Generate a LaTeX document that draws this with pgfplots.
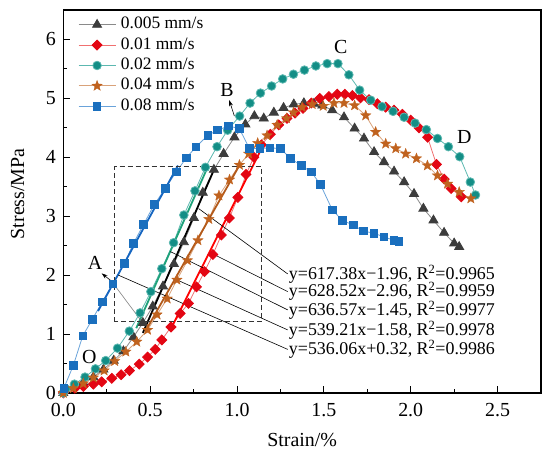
\documentclass[border=0pt]{standalone}
\usepackage{fontspec}
\setmainfont{Liberation Serif}
\usepackage{pgfplots}
\usepackage{pgfplotstable}
\pgfplotsset{compat=1.18}
\usetikzlibrary{arrows.meta}

\definecolor{cAm}{HTML}{3C3C3C}\definecolor{cAl}{HTML}{8A8A8A}
\definecolor{cBm}{HTML}{E30613}\definecolor{cBl}{HTML}{F07070}
\definecolor{cCm}{HTML}{138E86}\definecolor{cCl}{HTML}{5CB8B0}
\definecolor{cDm}{HTML}{C0621E}\definecolor{cDl}{HTML}{D9A27A}
\definecolor{cEm}{HTML}{1A6FBE}\definecolor{cEl}{HTML}{6AA3DA}
\definecolor{fitC}{HTML}{1FA27A}\definecolor{fitD}{HTML}{B35A1A}
\definecolor{fitB}{HTML}{FF0000}\definecolor{fitE}{HTML}{1565C0}

\pgfdeclareplotmark{fstar}{%
  \pgfpathmoveto{\pgfpointpolar{90}{\pgfplotmarksize}}%
  \pgfpathlineto{\pgfpointpolar{126}{0.42\pgfplotmarksize}}%
  \pgfpathlineto{\pgfpointpolar{162}{\pgfplotmarksize}}%
  \pgfpathlineto{\pgfpointpolar{198}{0.42\pgfplotmarksize}}%
  \pgfpathlineto{\pgfpointpolar{234}{\pgfplotmarksize}}%
  \pgfpathlineto{\pgfpointpolar{270}{0.42\pgfplotmarksize}}%
  \pgfpathlineto{\pgfpointpolar{306}{\pgfplotmarksize}}%
  \pgfpathlineto{\pgfpointpolar{342}{0.42\pgfplotmarksize}}%
  \pgfpathlineto{\pgfpointpolar{18}{\pgfplotmarksize}}%
  \pgfpathlineto{\pgfpointpolar{54}{0.42\pgfplotmarksize}}%
  \pgfpathclose
  \pgfusepathqfillstroke}

\pgfplotstableread{
x y
0.000 0.00
0.058 0.10
0.115 0.18
0.173 0.27
0.231 0.40
0.290 0.55
0.346 0.71
0.404 0.95
0.458 1.19
0.515 1.47
0.574 1.81
0.637 2.19
0.694 2.56
0.752 2.97
0.803 3.40
0.867 3.79
0.923 4.06
0.985 4.34
1.048 4.56
1.100 4.70
1.154 4.66
1.212 4.76
1.268 4.84
1.327 4.90
1.385 4.92
1.443 4.91
1.491 4.88
1.548 4.80
1.616 4.68
1.677 4.49
1.731 4.32
1.789 4.09
1.846 3.92
1.904 3.76
1.962 3.58
2.019 3.38
2.073 3.13
2.131 2.93
2.192 2.72
2.250 2.54
2.279 2.48
}\tA

\pgfplotstableread{
x y
0.000 0.00
0.010 0.04
0.067 0.08
0.115 0.11
0.173 0.15
0.221 0.19
0.279 0.25
0.333 0.31
0.381 0.38
0.437 0.49
0.485 0.61
0.529 0.74
0.567 0.90
0.620 1.12
0.673 1.35
0.721 1.52
0.767 1.80
0.813 2.06
0.861 2.35
0.910 2.68
0.956 2.97
1.005 3.32
1.052 3.71
1.097 4.00
1.141 4.21
1.192 4.39
1.240 4.55
1.288 4.66
1.334 4.75
1.380 4.83
1.428 4.92
1.476 5.00
1.529 5.03
1.577 5.07
1.621 5.07
1.664 5.05
1.711 5.01
1.760 4.98
1.808 4.91
1.856 4.85
1.904 4.80
1.952 4.73
2.000 4.63
2.048 4.50
2.097 4.34
2.148 3.88
2.193 3.63
2.233 3.47
2.291 3.33
}\tB

\pgfplotstableread{
x y
0.000 0.00
0.015 0.07
0.064 0.15
0.125 0.27
0.185 0.41
0.244 0.55
0.312 0.76
0.380 1.05
0.442 1.36
0.504 1.72
0.567 2.11
0.635 2.55
0.694 3.02
0.758 3.43
0.818 3.83
0.885 4.18
0.946 4.46
1.015 4.70
1.075 4.92
1.135 5.09
1.199 5.21
1.263 5.33
1.325 5.41
1.388 5.48
1.454 5.55
1.519 5.59
1.581 5.59
1.644 5.40
1.706 5.14
1.770 4.97
1.835 4.86
1.898 4.78
1.962 4.68
2.025 4.58
2.090 4.47
2.154 4.32
2.217 4.18
2.282 4.01
2.343 3.58
2.373 3.36
}\tC

\pgfplotstableread{
x y
0.000 0.00
0.058 0.08
0.115 0.16
0.173 0.26
0.235 0.38
0.296 0.54
0.360 0.70
0.423 0.87
0.485 1.07
0.540 1.33
0.598 1.60
0.654 1.92
0.715 2.25
0.775 2.59
0.838 2.95
0.896 3.35
0.957 3.62
1.014 3.87
1.067 4.06
1.119 4.24
1.173 4.37
1.231 4.55
1.285 4.66
1.325 4.76
1.375 4.85
1.433 4.90
1.496 4.87
1.558 4.92
1.616 4.92
1.677 4.88
1.741 4.71
1.798 4.43
1.856 4.23
1.914 4.15
1.971 4.06
2.033 3.98
2.096 3.86
2.154 3.69
2.212 3.55
2.279 3.41
2.346 3.30
}\tD

\pgfplotstableread{
x y
0.003 0.08
0.058 0.47
0.112 0.97
0.167 1.25
0.225 1.55
0.285 1.85
0.352 2.20
0.404 2.54
0.462 2.86
0.524 3.20
0.587 3.47
0.650 3.75
0.708 3.99
0.765 4.18
0.831 4.37
0.888 4.46
0.950 4.53
1.013 4.49
1.071 4.15
1.131 4.15
1.190 4.16
1.250 4.15
1.308 3.98
1.370 3.86
1.428 3.75
1.480 3.54
1.548 3.11
1.606 2.93
1.669 2.85
1.727 2.75
1.789 2.71
1.846 2.65
1.904 2.59
1.933 2.57
}\tE

\begin{document}
\begin{tikzpicture}
\begin{axis}[
  at={(0,0)}, anchor=south west,
  scale only axis, width=477.7bp, height=383bp,
  xmin=0, xmax=2.75, ymin=0, ymax=6.5,
  xtick={0,0.5,...,2.5}, ytick={0,1,...,6},
  minor x tick num=1, minor y tick num=1,
  xtick pos=bottom, ytick pos=left, tick align=inside,
  major tick length=7bp, minor tick length=4bp,
  tick style={black, line width=0.9bp},
  axis line style={line width=1.1bp},
  clip=false,
  /pgf/number format/assume math mode=true,
  x tick label style={/pgf/number format/.cd, fixed, fixed zerofill, precision=1, /tikz/.cd, font=\fontsize{20}{24}\selectfont, yshift=-6.5bp},
  y tick label style={font=\fontsize{20}{24}\selectfont, xshift=-4bp},
  xlabel={Strain/\%}, ylabel={Stress/MPa},
  xlabel style={at={(axis description cs:0.5,-0.1227)}, anchor=center, font=\fontsize{20}{24}\selectfont},
  ylabel style={at={(axis description cs:-0.0955,0.52)}, anchor=center, font=\fontsize{20}{24}\selectfont},
  legend style={at={(axis description cs:0,1)}, anchor=north west, xshift=14.7bp, yshift=-6.5bp,
    draw=none, fill=none, inner sep=0pt, font=\fontsize{17.5}{20}\selectfont,
    row sep=4.4bp, column sep=5bp, nodes={inner sep=0bp, text height=12bp, text depth=4bp}},
  legend cell align=left,
  legend image code/.code={\draw[mark repeat=2,mark phase=2,#1] plot coordinates {(0bp,0bp)(18.5bp,0bp)(37bp,0bp)};},
]
\addplot[cAl, line width=0.8bp, mark=triangle*, mark size=5.2bp, mark options={fill=cAm, draw=cAm}] table[x=x,y=y]{\tA};
\addlegendentry{0.005 mm/s}
\addplot[cBl, line width=0.8bp, mark=square*, mark size=3.5bp, mark options={rotate=45, fill=cBm, draw=cBm}] table[x=x,y=y]{\tB};
\addlegendentry{0.01 mm/s}
\addplot[cCl, line width=0.8bp, mark=*, mark size=4.3bp, mark options={fill=cCm, draw=cCl}] table[x=x,y=y]{\tC};
\addlegendentry{0.02 mm/s}
\addplot[cDl, line width=0.8bp, mark=fstar, mark size=5.5bp, mark options={fill=cDm, draw=cDm, line width=0.3bp}] table[x=x,y=y]{\tD};
\addlegendentry{0.04 mm/s}
\addplot[cEl, line width=0.8bp, mark=square*, mark size=3.7bp, mark options={fill=cEm, draw=cEm}] table[x=x,y=y]{\tE};
\addlegendentry{0.08 mm/s}

% fitted lines
\addplot[black, line width=1.8bp, forget plot] coordinates {(0.458,1.02) (0.875,3.84)};
\addplot[fitB, line width=1.8bp, forget plot] coordinates {(0.63,1.15) (1.15,4.20)};
\addplot[fitC, line width=1.8bp, forget plot] coordinates {(0.42,1.10) (0.835,3.86)};
\addplot[fitD, line width=1.8bp, forget plot] coordinates {(0.471,1.04) (1.019,3.89)};
\addplot[fitE, line width=1.8bp, forget plot] coordinates {(0.20,1.39) (0.66,3.86)};

% dashed box
\draw[black!80, line width=0.8bp, dash pattern=on 5bp off 3bp] (axis cs:0.295,1.21) rectangle (axis cs:1.14,3.84);

% leader lines
\draw[black, line width=0.6bp] (axis cs:0.779,3.13) -- (axis cs:1.292,2.02);
\draw[black, line width=0.6bp] (axis cs:0.855,2.37) -- (axis cs:1.292,1.72);
\draw[black, line width=0.6bp] (axis cs:0.616,2.40) -- (axis cs:1.292,1.41);
\draw[black, line width=0.6bp] (axis cs:0.654,1.92) -- (axis cs:1.292,1.07);
\draw[black, line width=0.6bp] (axis cs:0.317,2.00) -- (axis cs:1.292,0.74);

\begin{scope}[every node/.style={anchor=west, inner sep=1bp, font=\fontsize{18}{21}\selectfont}]
\node at (axis cs:1.292,2.02) {y=617.38x−1.96, R\textsuperscript{2}=0.9965};
\node at (axis cs:1.292,1.72) {y=628.52x−2.96, R\textsuperscript{2}=0.9959};
\node at (axis cs:1.292,1.41) {y=636.57x−1.45, R\textsuperscript{2}=0.9977};
\node at (axis cs:1.292,1.07) {y=539.21x−1.58, R\textsuperscript{2}=0.9978};
\node at (axis cs:1.292,0.74) {y=536.06x+0.32, R\textsuperscript{2}=0.9986};
\end{scope}

% point labels
\draw[gray, line width=0.6bp] (axis cs:0.29,1.85) -- (axis cs:0.462,1.17);
\draw[black, line width=0.6bp, -{Stealth[length=6bp,width=4bp]}] (axis cs:0.29,1.87) -- (axis cs:0.221,2.03);
\draw[black, line width=0.6bp, -{Stealth[length=6bp,width=4bp]}] (axis cs:0.985,4.70) -- (axis cs:0.955,4.97);
\begin{scope}[every node/.style={inner sep=0pt, font=\fontsize{20}{24}\selectfont}]
\node at (axis cs:0.183,2.20) {A};
\node at (axis cs:0.943,5.15) {B};
\node at (axis cs:1.597,5.87) {C};
\node at (axis cs:2.308,4.34) {D};
\node at (axis cs:0.150,0.605) {O};
\end{scope}
\end{axis}
\pgfresetboundingbox
\path[use as bounding box] ([shift={(-63.3bp,-66bp)}]current axis.south west) rectangle ([shift={(9bp,10bp)}]current axis.north east);
\end{tikzpicture}
\end{document}
